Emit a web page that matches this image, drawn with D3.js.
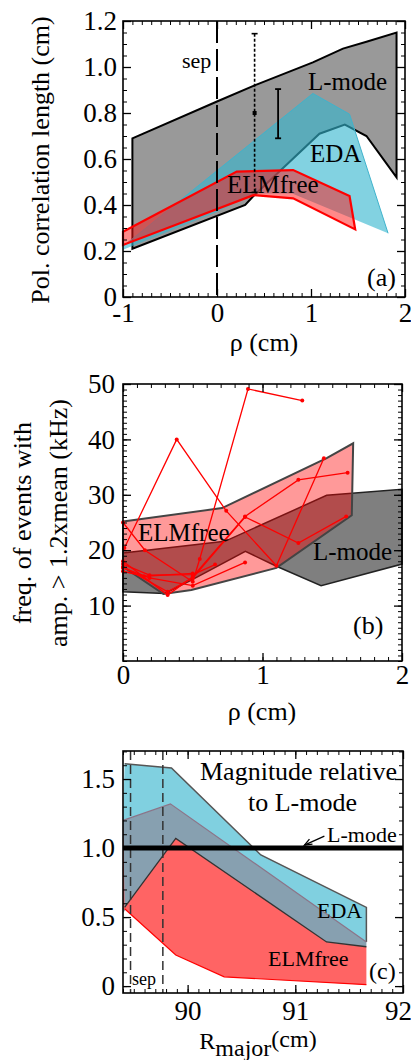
<!DOCTYPE html>
<html>
<head>
<meta charset="utf-8">
<script src="https://cdn.jsdelivr.net/npm/d3@7"></script>
<style>
  body { margin: 0; background: #fff; }
  svg text { font-family: "Liberation Serif", "Times New Roman", serif; fill: #000; }
</style>
</head>
<body>
<div id="chart"></div>
<script>
// ---- panel (a): poloidal correlation length vs rho
const aLmodeUp = [[-0.9,0.69],[0,0.85],[0.4,0.92],[1.02,1.02],[1.34,1.08],[1.59,1.11],[1.91,1.15]];
const aLmodeLo = [[-0.9,0.21],[0.30,0.40],[0.39,0.44],[1.09,0.71],[1.36,0.75],[1.59,0.70],[1.91,0.52]];
const aEdaUp = [[-1,0.22],[1.02,0.885],[1.41,0.795],[1.82,0.277]];
const aEdaLo = [[-1,0.205],[0,0.37],[0.4,0.45],[0.8,0.45],[1.82,0.277]];
const aElmUp = [[-1,0.284],[0.21,0.545],[0.81,0.552],[1.41,0.439],[1.47,0.294]];
const aElmLo = [[-1,0.226],[0.387,0.443],[0.81,0.429],[1.47,0.294]];
const aErrX = [0.40, 0.65];
const aErrMid = [0.80, 0.797];
const aErrHalf = [0.345, 0.107];
const aXTicks = [-1, 0, 1, 2];
const aYTicks = [0, 0.2, 0.4, 0.6, 0.8, 1.0, 1.2];
const aYLabels = ['0', '0.2', '0.4', '0.6', '0.8', '1.0', '1.2'];

// ---- panel (b): event frequency vs rho
const bLmodeUp = [[0,19.5],[0.73,21.6],[1.46,29.9],[2.0,31.0]];
const bLmodeLo = [[0,12.5],[0.30,12.2],[0.49,14.6],[0.877,19.8],[1.10,17.1],[1.42,13.6],[2.0,17.5]];
const bElmUp = [[0,25.2],[0.71,27.6],[1.46,36.6],[1.65,39.3]];
const bElmLo = [[0,17.0],[0.29,12.1],[0.49,12.8],[1.10,16.8],[1.64,26.3]];
const bShots = [
  [[0,17.5],[0.19,15.5],[0.50,15.6],[0.66,17.4]],
  [[0.01,20.4],[0.385,40.0],[0.74,27.1],[1.10,17.2],[1.44,36.6]],
  [[0,25.0],[0.157,20.0],[0.50,14.3],[0.55,18.4],[0.896,49.1],[1.285,47.0]],
  [[0,18.0],[0.32,11.9],[0.50,15.2],[0.875,26.1],[1.257,32.7],[1.61,34.0]],
  [[0,16.8],[0.19,15.0],[0.50,13.6],[0.875,17.8]],
  [[0,17.0],[0.32,12.5],[0.50,15.0],[0.875,26.0],[1.257,21.3],[1.60,26.1]],
  [[0,16.2],[0.15,15.3],[0.50,15.8]]
];
const bXTicks = [0, 1, 2];
const bYTicks = [10, 20, 30, 40, 50];

// ---- panel (c): magnitude relative to L-mode vs R_major
const cEdaUp = [[89.415,1.61],[89.85,1.58],[90.68,0.95],[91.66,0.57],[91.66,0.32]];
const cEdaLo = [[89.40,1.20],[89.84,1.32],[91.66,0.32]];
const cMidUp = [[89.40,1.20],[89.84,1.32],[91.66,0.32]];
const cMidLo = [[89.40,0.53],[89.43,0.56],[89.89,1.07],[91.29,0.32],[91.66,0.285]];
const cElmUp = [[89.40,1.20],[89.415,0.57],[89.89,1.07],[91.29,0.32],[91.66,0.285]];
const cElmLo = [[89.40,0.56],[89.415,0.56],[89.89,0.225],[90.34,0.067],[91.66,0.01]];
const cLmodeRef = 1.0;
const cSep = [89.47, 89.77];
const cXTicks = [90, 91, 92];
const cYTicks = [0, 0.5, 1.0, 1.5];
const cYLabels = ['0', '0.5', '1.0', '1.5'];

const width = 411, height = 1060;
const tickFont = 27;
const serif = '"Liberation Serif", "Times New Roman", serif';

const svg = d3.select('#chart').append('svg')
  .attr('width', width)
  .attr('height', height);

const band = (up, lo) => up.concat(lo.slice().reverse());

function makePanel(box, xDom, yDom) {
  const x = d3.scaleLinear().domain(xDom).range([box.l, box.r]);
  const y = d3.scaleLinear().domain(yDom).range([box.b, box.t]);
  const g = svg.append('g');
  return { x, y, g, box };
}

function minorValues(dom, step) {
  const lo = Math.ceil(dom[0] / step - 1e-6), hi = Math.floor(dom[1] / step + 1e-6);
  return d3.range(lo, hi + 1).map((i) => +(i * step).toFixed(4));
}

function drawFrame(p, o) {
  const { x, y, box } = p;
  const fg = svg.append('g');
  const axes = [
    [d3.axisBottom(x), `translate(0,${box.b})`, o.xMajor, o.xMinor, true],
    [d3.axisTop(x), `translate(0,${box.t})`, o.xMajor, o.xMinor, false],
    [d3.axisLeft(y), `translate(${box.l},0)`, o.yMajor, o.yMinor, true],
    [d3.axisRight(y), `translate(${box.r},0)`, o.yMajor, o.yMinor, false]
  ];
  axes.forEach(([ax, tr, major, minor, labelled], i) => {
    const isX = i < 2;
    fg.append('g').attr('transform', tr)
      .call(ax.tickValues(minor).tickSize(-4).tickFormat(''))
      .call((s) => s.select('.domain').remove());
    const mg = fg.append('g').attr('transform', tr)
      .call(ax.tickValues(major).tickSize(-8)
        .tickPadding(isX ? o.xPad : o.yPad)
        .tickFormat(labelled ? (isX ? o.xFmt : o.yFmt) : ''))
      .call((s) => s.select('.domain').remove());
    mg.selectAll('text').style('font-size', tickFont + 'px')
      .style('font-family', serif).attr('fill', '#000');
    mg.selectAll('line').attr('stroke-width', 1.3);
    if (isX && labelled && o.lastDx) {
      mg.selectAll('text').filter((d) => d === major[major.length - 1]).attr('dx', o.lastDx);
    }
  });
  fg.selectAll('.tick line').attr('stroke', '#000');
  fg.append('rect')
    .attr('x', box.l).attr('y', box.t)
    .attr('width', box.r - box.l).attr('height', box.b - box.t)
    .attr('fill', 'none').attr('stroke', '#000').attr('stroke-width', 1.6);
}

const line = (p) => d3.line().x((d) => p.x(d[0])).y((d) => p.y(d[1]));
const closed = (p) => d3.line().x((d) => p.x(d[0])).y((d) => p.y(d[1])).curve(d3.curveLinearClosed);

function label(txt, x, y, size, anchor) {
  return svg.append('text').attr('x', x).attr('y', y)
    .style('font-size', size + 'px')
    .style('font-family', serif)
    .attr('text-anchor', anchor || 'start')
    .text(txt);
}

// ================= panel (a)
const pa = makePanel({ l: 123, r: 405, t: 21, b: 297 }, [-1, 2], [0, 1.2]);
pa.g.append('path').attr('d', closed(pa)(band(aLmodeUp, aLmodeLo)))
  .attr('fill', '#999999').attr('stroke', '#000').attr('stroke-width', 2);
pa.g.append('path').attr('d', closed(pa)(band(aEdaUp, aEdaLo)))
  .attr('fill', 'rgba(53,182,206,0.62)').attr('stroke', 'none');
pa.g.append('path').attr('d', line(pa)(aEdaUp))
  .attr('fill', 'none').attr('stroke', '#3fb3cc').attr('stroke-width', 1);
pa.g.append('path').attr('d', closed(pa)(band(aElmUp, aElmLo)))
  .attr('fill', 'rgba(255,20,20,0.5)').attr('stroke', '#ff0000').attr('stroke-width', 2.2);

// separatrix
pa.g.append('line')
  .attr('x1', pa.x(0)).attr('x2', pa.x(0))
  .attr('y1', pa.y(1.2)).attr('y2', pa.y(0))
  .attr('stroke', '#000').attr('stroke-width', 2).attr('stroke-dasharray', '22,6');

// error bars
aErrX.forEach((xv, i) => {
  const eg = pa.g.append('g').attr('stroke', '#000').attr('stroke-width', i === 0 ? 1.6 : 1.8);
  const x0 = pa.x(xv), yt = pa.y(aErrMid[i] + aErrHalf[i]), yb = pa.y(aErrMid[i] - aErrHalf[i]);
  eg.append('line').attr('x1', x0).attr('x2', x0).attr('y1', yt).attr('y2', yb)
    .attr('stroke-dasharray', i === 0 ? '3,2' : null);
  eg.append('line').attr('x1', x0 - 3).attr('x2', x0 + 3).attr('y1', yt).attr('y2', yt);
  eg.append('line').attr('x1', x0 - 3).attr('x2', x0 + 3).attr('y1', yb).attr('y2', yb);
  if (i === 0) {
    pa.g.append('rect').attr('x', x0 - 2).attr('y', pa.y(aErrMid[i]) - 2)
      .attr('width', 4).attr('height', 4).attr('fill', '#000');
  }
});

label('sep', 182, 68, 22);
label('L-mode', 308, 90, 25);
label('EDA', 310, 162, 25);
label('ELMfree', 227, 193, 25);
label('(a)', 367, 286, 26);

drawFrame(pa, {
  xMajor: aXTicks, xMinor: minorValues([-1, 2], 0.1),
  yMajor: aYTicks, yMinor: minorValues([0, 1.2], 0.05),
  xPad: 6, yPad: 6,
  xFmt: (d) => String(d),
  yFmt: (d) => aYLabels[aYTicks.indexOf(d)]
});

svg.append('text')
  .attr('transform', 'translate(49,160) rotate(-90)')
  .attr('text-anchor', 'middle').style('font-size', '26px').style('font-family', serif)
  .text('Pol. correlation length (cm)');
label('ρ (cm)', 264, 351, 26, 'middle');

// ================= panel (b)
const pb = makePanel({ l: 123, r: 402, t: 384, b: 661 }, [0, 2], [0, 50]);
pb.g.append('path').attr('d', closed(pb)(band(bLmodeUp, bLmodeLo)))
  .attr('fill', '#7f7f7f').attr('stroke', '#222').attr('stroke-width', 1.5);
pb.g.append('path').attr('d', closed(pb)(band(bElmUp, bElmLo)))
  .attr('fill', 'rgba(255,0,0,0.4)').attr('stroke', '#444').attr('stroke-width', 2);

bShots.forEach((s) => {
  pb.g.append('path').attr('d', line(pb)(s))
    .attr('fill', 'none').attr('stroke', '#ff0000').attr('stroke-width', 1.3);
  pb.g.selectAll(null).data(s).join('circle')
    .attr('cx', (d) => pb.x(d[0])).attr('cy', (d) => pb.y(d[1]))
    .attr('r', 2).attr('fill', '#ff0000');
});

label('ELMfree', 138, 541, 25);
label('L-mode', 313, 560, 25);
label('(b)', 353, 634, 26);

drawFrame(pb, {
  xMajor: bXTicks, xMinor: minorValues([0, 2], 0.1),
  yMajor: bYTicks, yMinor: minorValues([0, 50], 1),
  xPad: 4, yPad: 8,
  xFmt: d3.format('d'), yFmt: d3.format('d')
});

svg.append('text')
  .attr('transform', 'translate(31,523) rotate(-90)')
  .attr('text-anchor', 'middle').style('font-size', '26px').style('font-family', serif)
  .text('freq. of events with');
svg.append('text')
  .attr('transform', 'translate(67,523) rotate(-90)')
  .attr('text-anchor', 'middle').style('font-size', '26px').style('font-family', serif)
  .text('amp. > 1.2xmean (kHz)');
label('ρ (cm)', 262, 720, 26, 'middle');

// ================= panel (c)
const pc = makePanel({ l: 123, r: 403, t: 751, b: 993 }, [89.4, 92], [-0.05, 1.703]);
pc.g.append('path').attr('d', closed(pc)(band(cEdaUp, cEdaLo)))
  .attr('fill', '#80d0e0');
pc.g.append('path').attr('d', closed(pc)(band(cMidUp, cMidLo)))
  .attr('fill', '#87a0b0');
pc.g.append('path').attr('d', closed(pc)(band(cElmUp, cElmLo)))
  .attr('fill', '#ff6464');
pc.g.append('path').attr('d', line(pc)(cEdaUp))
  .attr('fill', 'none').attr('stroke', '#555').attr('stroke-width', 1.5);
pc.g.append('path').attr('d', line(pc)(cMidUp))
  .attr('fill', 'none').attr('stroke', '#8a7488').attr('stroke-width', 1.2);
pc.g.append('path').attr('d', line(pc)(cElmUp.slice(1)))
  .attr('fill', 'none').attr('stroke', '#333').attr('stroke-width', 1.3);
pc.g.append('path').attr('d', line(pc)(cElmLo.slice(1)))
  .attr('fill', 'none').attr('stroke', '#ff0000').attr('stroke-width', 1.2);

cSep.forEach((xv) => {
  pc.g.append('line')
    .attr('x1', pc.x(xv)).attr('x2', pc.x(xv))
    .attr('y1', pc.y(1.703)).attr('y2', pc.y(-0.05))
    .attr('stroke', '#333').attr('stroke-width', 1.5).attr('stroke-dasharray', '9,5');
});

pc.g.append('line')
  .attr('x1', pc.x(89.4)).attr('x2', pc.x(92))
  .attr('y1', pc.y(cLmodeRef)).attr('y2', pc.y(cLmodeRef))
  .attr('stroke', '#000').attr('stroke-width', 5);

// arrow to the L-mode reference line
const tipX = pc.x(91.085), tipY = pc.y(cLmodeRef) - 3;
const tailX = pc.x(91.27), tailY = tipY - 9;
pc.g.append('line').attr('x1', tailX).attr('y1', tailY).attr('x2', tipX).attr('y2', tipY)
  .attr('stroke', '#000').attr('stroke-width', 1.3);
pc.g.append('path')
  .attr('d', `M${tipX + 8},${tipY - 1}L${tipX},${tipY}L${tipX + 5},${tipY - 6}`)
  .attr('fill', 'none').attr('stroke', '#000').attr('stroke-width', 1.3);

label('Magnitude relative', 200, 780, 26);
label('to L-mode', 248, 811, 26);
label('L-mode', 327, 842, 22);
label('EDA', 317, 918, 22);
label('ELMfree', 268, 966, 22);
label('(c)', 369, 979, 24);
label('sep', 132, 985, 18);

drawFrame(pc, {
  xMajor: cXTicks, xMinor: minorValues([89.4, 92], 0.1),
  yMajor: cYTicks, yMinor: minorValues([0, 1.7], 0.1),
  xPad: 8, yPad: 8, lastDx: -5,
  xFmt: d3.format('d'),
  yFmt: (d) => cYLabels[cYTicks.indexOf(d)]
});

const rt = svg.append('text').attr('x', 258).attr('y', 1049)
  .attr('text-anchor', 'middle').style('font-size', '24px').style('font-family', serif);
rt.append('tspan').text('R');
rt.append('tspan').attr('dy', 7).text('major');
rt.append('tspan').attr('dy', -9).text('(cm)');
</script>
</body>
</html>
